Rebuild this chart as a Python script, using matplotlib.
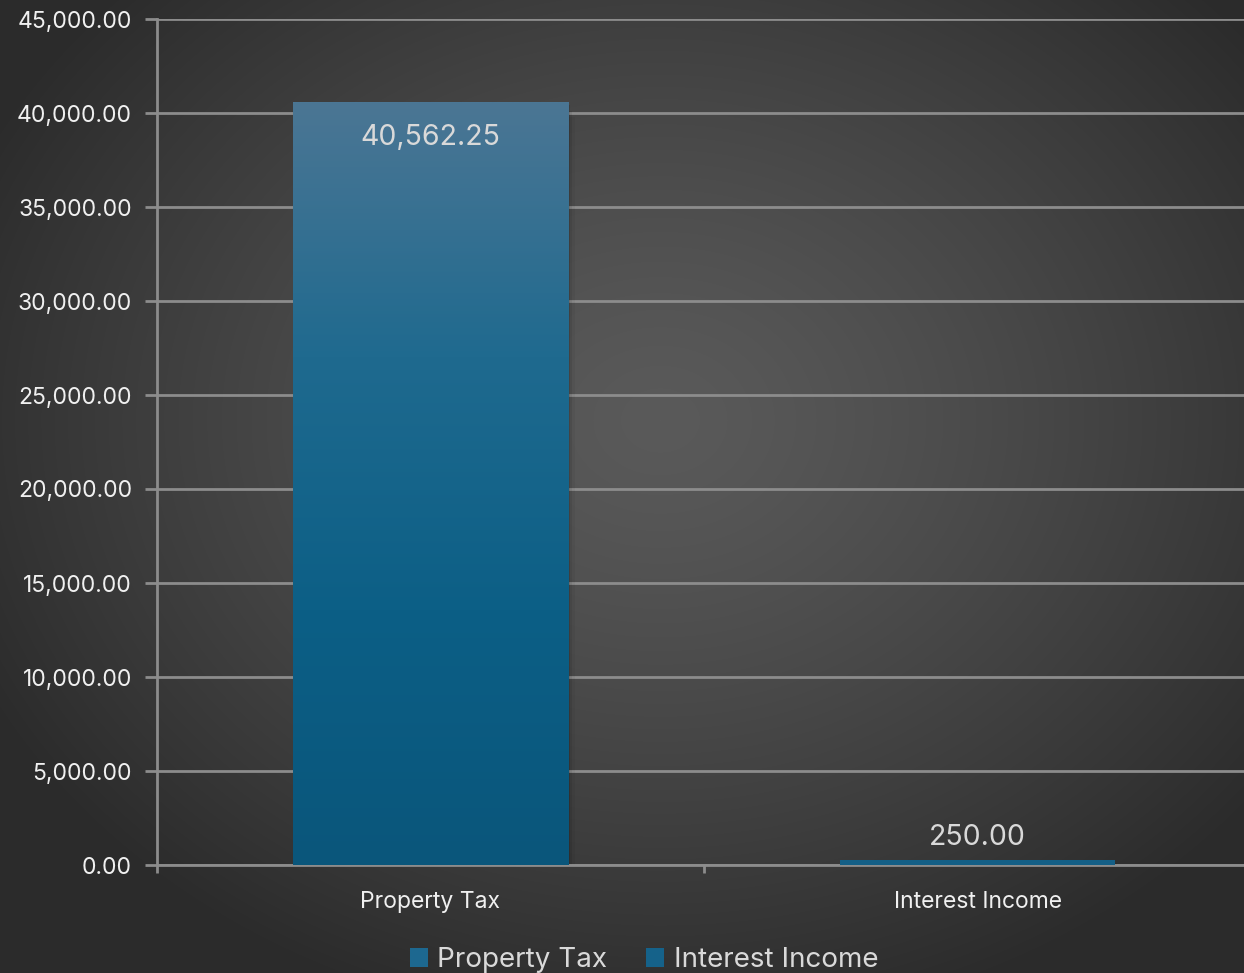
import numpy as np
import matplotlib
matplotlib.use("Agg")
import matplotlib.pyplot as plt
from matplotlib.colors import LinearSegmentedColormap
from matplotlib.ticker import FuncFormatter, MultipleLocator
from matplotlib.patches import Patch

categories = ["Property Tax", "Interest Income"]
values = [40562.25, 250.00]
y_max = 45000
y_step = 5000

plt.rcParams["font.family"] = ["Inter", "DejaVu Sans"]

W, H = 1244, 973
fig = plt.figure(figsize=(W / 100, H / 100), dpi=100)

# Radial background: light centre fading to dark edges
bg = fig.add_axes([0, 0, 1, 1], zorder=-10)
yy, xx = np.mgrid[0:H, 0:W]
cx, cy = 660, 420
r = np.sqrt(((xx - cx) / 760.0) ** 2 + ((yy - cy) / 620.0) ** 2)
r = np.clip(r, 0, 1)
light, dark = 0x5a / 255, 0x2b / 255
shade = light + (dark - light) * r ** 1.3
bg.imshow(np.dstack([shade, shade, shade]), extent=[0, 1, 0, 1], aspect="auto",
          origin="upper", interpolation="bilinear")
bg.set_axis_off()

# Plot area
left_px, right_px = 157, 1251
top_px, bottom_px = 19, 865
ax = fig.add_axes([left_px / W, 1 - bottom_px / H,
                   (right_px - left_px) / W, (bottom_px - top_px) / H])
ax.set_facecolor("none")

grid_c = "#8c8c8c"
ax.yaxis.set_major_locator(MultipleLocator(y_step))
ax.grid(axis="y", color=grid_c, linewidth=2, zorder=0)
ax.set_axisbelow(True)
for side in ["top", "right"]:
    ax.spines[side].set_visible(False)
for side in ["left", "bottom"]:
    ax.spines[side].set_color(grid_c)
    ax.spines[side].set_linewidth(2)
ax.yaxis.set_major_formatter(FuncFormatter(lambda v, _: f"{v:,.2f}"))
ax.tick_params(axis="y", colors=grid_c, labelcolor="#f0f0f0", length=9, width=2,
               labelsize=16.5, pad=9)

x = np.arange(len(categories)) + 0.5
ax.set_xticks(np.arange(len(categories) + 1), minor=False)
ax.set_xticklabels([""] * (len(categories) + 1))
ax.set_xticks(x, minor=True)
ax.set_xticklabels(categories, minor=True)
ax.tick_params(axis="x", which="major", colors=grid_c, length=6, width=2)
ax.tick_params(axis="x", which="minor", length=0, labelcolor="#f0f0f0",
               labelsize=16.5, pad=19)

bar_w = 0.503
cmap = LinearSegmentedColormap.from_list(
    "barfill", ["#0a567b", "#0c5f86", "#1f6a8f", "#4b7694"])
grad = np.linspace(0, 1, 256).reshape(-1, 1)

bars = ax.bar(x, values, width=bar_w, color="#145f86", zorder=3, linewidth=0)
for b, v in zip(bars, values):
    x0 = b.get_x()
    # soft drop shadow
    for k, a in enumerate([0.10, 0.07, 0.04]):
        off = 0.004 * (k + 1)
        ax.add_patch(plt.Rectangle((x0 + off, -300 * (k + 1)), bar_w, v + 150,
                                   color="black", alpha=a, zorder=2, linewidth=0))
    if v > y_max * 0.1:
        im = ax.imshow(grad, extent=[x0, x0 + bar_w, 0, v], origin="lower",
                       cmap=cmap, aspect="auto", zorder=4)
        im.set_clip_path(b)

ax.set_xlim(0, len(categories))
ax.set_ylim(0, y_max)

# Value labels
for xi, v in zip(x, values):
    y_lab = v - 1850 if v > y_max * 0.1 else v + 1200
    ax.text(xi, y_lab, f"{v:,.2f}", ha="center", va="center",
            fontsize=20.5, color="#d9d9d9", zorder=6)

# Legend
handles = [Patch(facecolor="#1d6890", edgecolor="none"),
           Patch(facecolor="#15628a", edgecolor="none")]
fig.legend(handles, categories, loc="center", bbox_to_anchor=(644 / W, 1 - 960 / H),
           ncol=2, frameon=False, fontsize=20, labelcolor="#d9d9d9",
           handlelength=0.65, handleheight=0.65, handletextpad=0.35, columnspacing=1.4)

fig.savefig("out.png", dpi=100)
